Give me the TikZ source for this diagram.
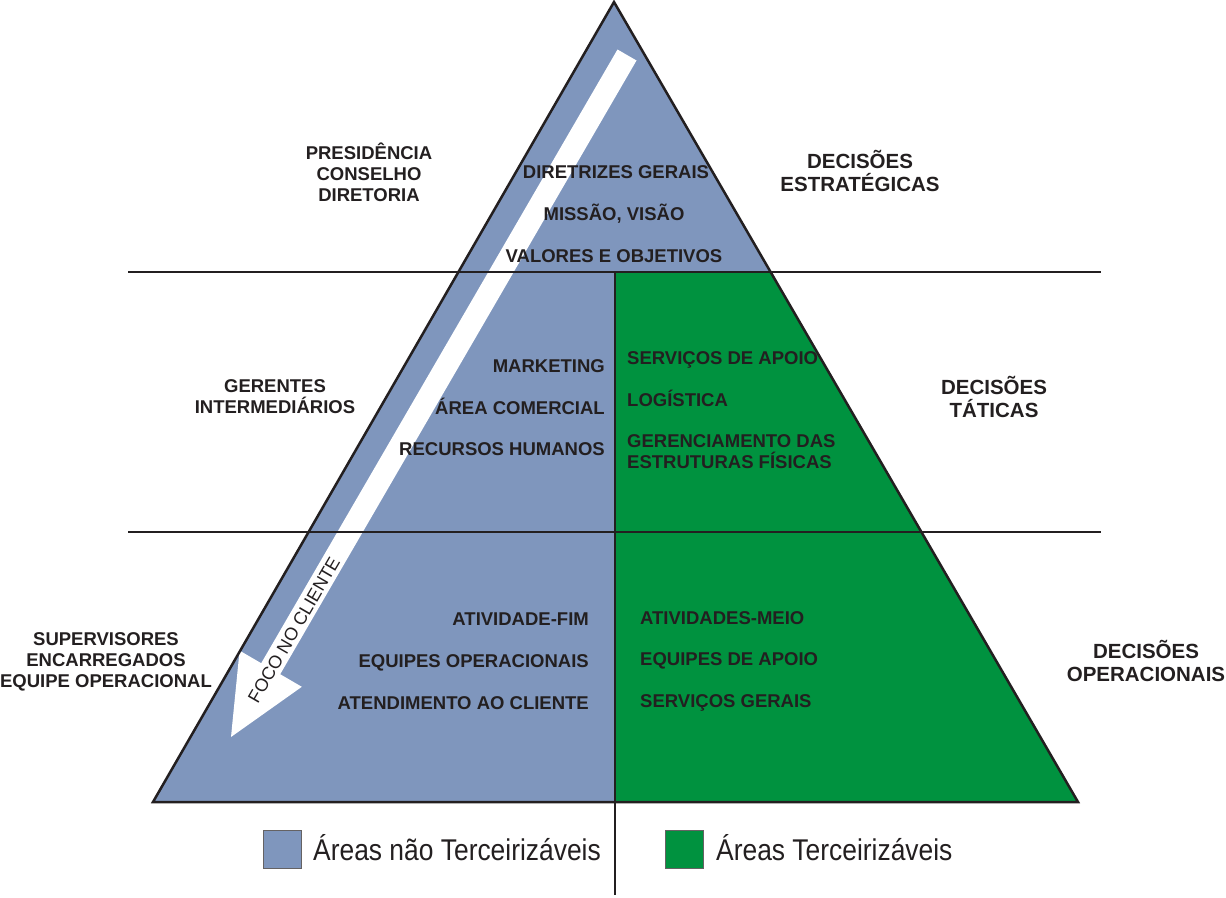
\documentclass[tikz,border=0pt]{standalone}
\usepackage{fontspec}
\setmainfont{Liberation Sans}
\usepackage{tikz}
\usetikzlibrary{calc}

\definecolor{azul}{RGB}{127,150,189}
\definecolor{verde}{RGB}{0,146,63}
\definecolor{tinta}{RGB}{35,31,32}

\begin{document}
\begin{tikzpicture}[
  x=1pt, y=-1pt,
  rotulo/.style={font=\fontsize{18.5}{21}\selectfont\bfseries, text=tinta, align=center, inner sep=0pt},
  decisao/.style={font=\fontsize{20.5}{23}\selectfont\bfseries, text=tinta, align=center, inner sep=0pt},
  itemesq/.style={rotulo, anchor=base east},
  itemdir/.style={rotulo, anchor=base west},
  linha/.style={draw=tinta, line width=2pt},
  legenda/.style={font=\fontsize{30}{32}\selectfont, text=tinta, anchor=base west, inner sep=0pt},
  caixa/.style={draw=tinta!70, line width=0.8pt, minimum size=38pt, inner sep=0pt}
]
\useasboundingbox (0,0) rectangle (1226,897);

% piramide
\coordinate (topo) at (614,2);
\coordinate (baseE) at (153,802);
\coordinate (baseD) at (1078,802);
\fill[azul] (topo) -- (baseE) -- (baseD) -- cycle;
\fill[verde] (615,272) -- (770.6,272) -- (baseD) -- (615,802) -- cycle;

% seta foco no cliente
\fill[white] (617.5,49.5) -- (636.5,60.5) -- (280.2,674.2) -- (301.8,686.8)
  -- (231,737) -- (239.6,650.6) -- (261.2,663.2) -- cycle;
\node[font=\fontsize{18}{20}\selectfont, text=tinta, rotate=59.9, inner sep=0pt] (foco) at (294,630) {FOCO NO CLIENTE};

% divisoes
\draw[linha] (128,272) -- (1101,272);
\draw[linha] (128,532) -- (1101,532);
\draw[linha] (615,272) -- (615,895);
\draw[draw=tinta, line width=2.5pt, line join=miter] (topo) -- (baseE) -- (baseD) -- cycle;

% nivel estrategico
\node[rotulo] (presid) at (369,172) {PRESIDÊNCIA\\CONSELHO\\DIRETORIA};
\node[rotulo, anchor=base] (diretr) at (616,178.5) {DIRETRIZES GERAIS};
\node[rotulo, anchor=base] (missao) at (614,220.5) {MISSÃO, VISÃO};
\node[rotulo, anchor=base] (valores) at (614,262.5) {VALORES E OBJETIVOS};
\node[decisao] (estrat) at (860,171) {DECISÕES\\ESTRATÉGICAS};

% nivel tatico
\node[rotulo] (gerentes) at (275,397) {GERENTES\\INTERMEDIÁRIOS};
\node[itemesq] (mkt) at (605,372.5) {MARKETING};
\node[itemesq] (comerc) at (605,414.5) {ÁREA COMERCIAL};
\node[itemesq] (rh) at (605,455.5) {RECURSOS HUMANOS};
\node[itemdir] (apoio) at (627,364.5) {SERVIÇOS DE APOIO};
\node[itemdir] (logist) at (627,406.5) {LOGÍSTICA};
\node[rotulo, align=left, anchor=north west] (estrut) at (627,434) {GERENCIAMENTO DAS\\ESTRUTURAS FÍSICAS};
\node[decisao] (tatic) at (994,397) {DECISÕES\\TÁTICAS};

% nivel operacional
\node[rotulo] (superv) at (106,662) {SUPERVISORES\\ENCARREGADOS\\EQUIPE OPERACIONAL};
\node[itemesq] (fim) at (589,625.5) {ATIVIDADE-FIM};
\node[itemesq] (equipop) at (589,667.5) {EQUIPES OPERACIONAIS};
\node[itemesq] (atend) at (589,709.5) {ATENDIMENTO AO CLIENTE};
\node[itemdir] (meio) at (640,624.5) {ATIVIDADES-MEIO};
\node[itemdir] (equipap) at (640,665.5) {EQUIPES DE APOIO};
\node[itemdir] (gerais) at (640,707.5) {SERVIÇOS GERAIS};
\node[decisao] (operac) at (1146,661) {DECISÕES\\OPERACIONAIS};

% legenda
\node[caixa, fill=azul] (legazul) at (282,849) {};
\node[legenda] (txtazul) at (313,860) {\scalebox{0.88}[1]{Áreas não Terceirizáveis}};
\node[caixa, fill=verde] (legverde) at (684,849) {};
\node[legenda] (txtverde) at (716,860) {\scalebox{0.88}[1]{Áreas Terceirizáveis}};
\end{tikzpicture}
\end{document}
